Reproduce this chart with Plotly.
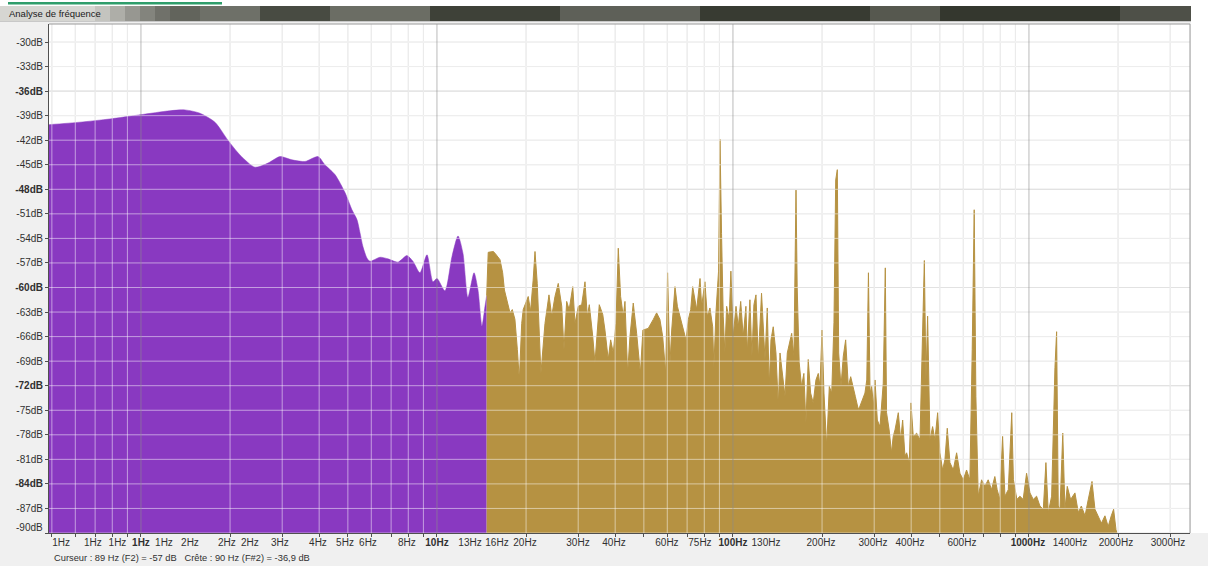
import math
import plotly.graph_objects as go

# ---------------- data ----------------
purple_freq = [0.489, 0.622, 0.786, 0.992, 1.253, 1.408, 1.582, 1.778, 1.967, 2.160, 2.428, 2.686,
               2.948, 3.237, 3.582, 3.963, 4.183, 4.523, 4.890, 5.162, 5.367, 5.495, 5.623, 5.800,
               5.938, 6.420, 6.832, 7.383, 7.916, 8.296, 8.760, 9.252, 9.694, 10.0, 10.64, 11.24,
               11.78, 12.24, 12.72, 13.34, 13.76, 14.19, 14.53, 14.72]
purple_db = [-40.1, -39.8, -39.4, -38.9, -38.4, -38.3, -38.7, -39.8, -42.0, -43.8, -45.3, -44.8,
             -44.0, -44.4, -44.6, -44.0, -45.0, -46.2, -48.4, -50.5, -51.7, -53.3, -55.0, -56.4,
             -56.8, -56.3, -56.5, -56.9, -56.1, -56.8, -58.2, -56.0, -59.3, -58.9, -60.4, -56.2,
             -53.7, -55.8, -61.2, -58.2, -60.3, -64.7, -62.3, -61.0]

gold_freq = [14.72, 14.90, 15.5, 15.7, 16.33, 16.67, 16.9, 17.65, 17.97, 18.34, 18.69, 18.98,
             19.33, 19.56, 20.34, 20.71, 21.13, 21.44, 21.82, 22.16, 22.45, 23.17, 23.90, 24.42,
             25.04, 25.69, 26.40, 26.86, 27.43, 27.97, 28.76, 29.27, 30.02, 30.83, 31.63, 32.20,
             32.71, 33.60, 34.18, 35.35, 36.32, 36.94, 37.90, 38.62, 39.42, 40.25, 40.98, 41.73,
             42.60, 43.17, 44.07, 44.87, 46.04, 47.27, 48.66, 49.63, 51.73, 53.81, 55.22, 56.65,
             57.89, 59.25, 60.14, 60.9,
             61.2, 62.1, 63.7, 64.9, 66.2, 67.9, 69.4, 70.7, 72.0, 73.1, 74.4, 75.4, 77.4, 78.4,
             80.4, 81.9, 83.6, 85.4, 86.2, 87.6, 89.4, 90.4, 91.5, 92.7, 93.9, 95.2, 97.1, 98.4,
             100.2, 102.4, 104.2, 106.2, 108.3, 110.6, 111.8, 114.1, 115.9, 117.7, 119.6, 121.8,
             124.9, 128.3, 130.6, 132.6, 134.4, 136.8, 139.7, 142.3, 144.2, 147.2, 149.9, 152.6,
             155.0, 157.9, 160.7, 163.3, 164.8, 167.4, 170.5, 173.6, 176.4, 179.6, 183.0, 186.7,
             190.7, 194.2, 196.8, 199.9, 203.0, 207.3, 211.6, 215.6, 219.4, 222.4, 225.2, 227.6,
             231.7, 235.9, 240.3, 245.3, 249.9, 255.0, 259.0, 265.1,
             268.6, 279.2, 283.2, 286.9, 290.5, 294.2, 298.4, 301.9, 307.4, 313.8, 321.9, 327.1,
             330.3, 337.0, 343.3, 347.8, 352.7, 361.9, 368.6, 374.4, 381.1, 386.1, 394.2, 399.3,
             406.6, 417.4, 428.3, 443.2, 448.7, 454.6, 462.9, 472.6, 481.2, 491.5, 500.2, 510.9,
             520.2, 529.7, 540.8, 555.0, 569.6, 584.5, 599.8, 615.5, 631.6, 643.1, 653.2, 661.8,
             673.9, 691.7, 709.7, 728.3, 747.3, 766.9, 780.9, 797.2, 814.6, 829.5, 851.5, 874.8,
             886.1, 910.4, 931.8, 956.0, 981.6, 1007.8, 1034, 1061, 1089, 1118, 1141, 1162, 1193,
             1224, 1240, 1256, 1273, 1301, 1323, 1347, 1383, 1430, 1468, 1503, 1547, 1586, 1633,
             1671, 1714, 1757, 1806, 1852, 1897, 1932, 1968, 1983]
gold_db = [-61.0, -55.7, -55.6, -55.8, -56.6, -58.2, -60.3, -63.1, -62.7, -63.9, -67.6, -71.3,
           -64.4, -62.7, -61.1, -62.9, -59.1, -55.6, -59.5, -66.4, -70.5, -64.4, -60.9, -63.5,
           -61.1, -59.5, -62.3, -67.6, -61.7, -62.7, -59.9, -64.4, -62.3, -62.1, -59.3, -63.5,
           -62.1, -66.0, -69.2, -62.1, -63.3, -65.2, -68.8, -66.4, -68.0, -64.4, -55.2, -61.1,
           -63.5, -61.7, -70.5, -66.0, -61.9, -65.6, -70.5, -65.2, -65.0, -63.9, -63.1, -63.9,
           -66.0, -70.5, -58.2, -66.4,
           -69.6, -65.2, -59.9, -62.3, -63.5, -65.2, -66.4, -63.9, -62.7, -59.9, -61.5, -62.7,
           -58.9, -62.3, -59.3, -63.5, -62.5, -64.8, -69.8, -63.1, -58.0, -41.9, -53.4, -63.5,
           -68.0, -62.3, -63.9, -58.0, -66.0, -62.3, -64.8, -61.7, -66.0, -62.3, -68.0, -61.5,
           -68.4, -62.1, -60.9, -68.8, -60.7, -68.8, -62.5, -72.1, -66.4, -64.8, -68.0, -74.5,
           -68.0, -70.5, -73.3, -68.0, -66.8, -65.6, -68.4, -48.1, -59.9, -69.2, -72.1, -70.5,
           -76.6, -68.8, -72.9, -74.1, -71.3, -70.5, -72.1, -65.2, -72.9, -79.4, -72.1, -72.9,
           -64.3, -46.85, -45.6, -68.0, -72.1, -68.4, -66.4, -72.1, -70.9, -72.1, -73.3, -74.9,
           -74.5, -72.9, -71.3, -58.2, -72.9, -72.1, -74.5, -71.3, -76.2, -77.0, -71.7, -57.6,
           -75.3, -77.4, -80.2, -78.2, -77.4, -75.3, -78.6, -76.2, -80.6, -80.2, -81.4, -74.1,
           -78.2, -77.8, -78.6, -56.7, -71.3, -63.5, -78.6, -77.0, -78.6, -75.3, -80.2, -82.3,
           -81.0, -77.2, -81.4, -82.3, -80.2, -82.7, -83.5, -82.3, -83.5, -67.6, -50.5, -73.3,
           -85.5, -83.5, -84.3, -83.5, -84.7, -83.1, -84.7, -85.9, -78.2, -85.5, -84.7, -75.3,
           -83.5, -85.9, -85.5, -85.9, -82.7, -85.1, -85.9, -85.5, -86.7, -87.1, -81.4, -87.5,
           -85.5, -69.8, -65.4, -86.7, -87.1, -77.8, -87.1, -84.3, -85.9, -85.1, -87.5, -86.7,
           -87.9, -85.9, -83.7, -87.1, -87.9, -88.8, -87.9, -89.2, -87.9, -87.1, -89.6, -90.0]

tick_freqs = [0.537, 0.688, 0.833, 1.0, 1.196, 1.464, 1.952, 2.334, 2.948, 3.963, 4.89, 5.847,
              7.916, 10, 12.93, 15.95, 19.83, 29.95, 39.63, 59.84, 77.35, 100, 129.3, 198.3,
              297.2, 396.3, 593.7, 992, 1376, 1967, 2948]
tick_labels = ["1Hz", "1Hz", "1Hz", "<b>1Hz</b>", "1Hz", "2Hz", "2Hz", "2Hz", "3Hz", "4Hz",
               "5Hz", "6Hz", "8Hz", "<b>10Hz</b>", "13Hz", "16Hz", "20Hz", "30Hz", "40Hz",
               "60Hz", "75Hz", "<b>100Hz</b>", "130Hz", "200Hz", "300Hz", "400Hz", "600Hz",
               "<b>1000Hz</b>", "1400Hz", "2000Hz", "3000Hz"]

db_ticks = [-30, -33, -36, -39, -42, -45, -48, -51, -54, -57, -60, -63, -66, -69, -72, -75,
            -78, -81, -84, -87, -90]
db_bold = [-36, -48, -60, -72, -84]

status_text = "Curseur : 89 Hz (F2) = -57 dB&nbsp;&nbsp;&nbsp;Crête : 90 Hz (F#2) = -36,9 dB"
window_title = "Analyse de fréquence"

# ---------------- geometry / style ----------------
W, H = 1208, 566
ML, MR, MT, MB = 49, 18, 24, 33
PW, PH = W - ML - MR, H - MT - MB
F_MIN, F_MAX = 0.489, 3500.0
DB_MIN, DB_MAX = -90.0, -27.8
FLOOR = -95.0
PURPLE = "#8939C1"
GOLD = "#B69242"
FONT = "Liberation Sans, Arial, sans-serif"


def px(x):
    return (x - ML) / PW


def py(y):
    return (H - MB - y) / PH


fig = go.Figure()

# grid positions (log grid 1..9 per decade)
grid_minor, grid_major = [], []
for e in range(-1, 4):
    for m in range(1, 10):
        f = m * 10 ** e
        if F_MIN < f < F_MAX:
            (grid_major if m == 1 else grid_minor).append(f)


def vlines(fs):
    xs, ys = [], []
    for f in fs:
        xs += [f, f, None]
        ys += [DB_MIN, DB_MAX, None]
    return xs, ys


def hlines(vals):
    xs, ys = [], []
    for v in vals:
        xs += [F_MIN, F_MAX, None]
        ys += [v, v, None]
    return xs, ys


def line_trace(xy, color, width=1):
    return go.Scatter(x=xy[0], y=xy[1], mode="lines", line=dict(color=color, width=width),
                      hoverinfo="skip", showlegend=False, connectgaps=False)


# under-layer grid (visible on white background)
fig.add_trace(line_trace(vlines(grid_minor), "#d8d8d8"))
fig.add_trace(line_trace(hlines([v for v in db_ticks if v not in db_bold]), "#dcdcdc"))
fig.add_trace(line_trace(hlines(db_bold), "#c4c4c4"))

# purple area
fig.add_trace(go.Scatter(x=[purple_freq[0], purple_freq[-1]], y=[FLOOR, FLOOR], mode="lines",
                         line=dict(width=0, color=PURPLE), hoverinfo="skip", showlegend=False))
fig.add_trace(go.Scatter(x=purple_freq, y=purple_db, mode="lines", fill="tonexty",
                         fillcolor=PURPLE, line=dict(color=PURPLE, width=0.5, shape="spline",
                                                     smoothing=0.7),
                         hoverinfo="skip", showlegend=False))
# gold area
fig.add_trace(go.Scatter(x=[gold_freq[0], gold_freq[-1]], y=[FLOOR, FLOOR], mode="lines",
                         line=dict(width=0, color=GOLD), hoverinfo="skip", showlegend=False))
fig.add_trace(go.Scatter(x=gold_freq, y=gold_db, mode="lines", fill="tonexty",
                         fillcolor=GOLD, line=dict(color=GOLD, width=1),
                         hoverinfo="skip", showlegend=False))

# over-layer grid (visible on the coloured areas)
fig.add_trace(line_trace(vlines(grid_minor), "rgba(255,255,255,0.5)"))
fig.add_trace(line_trace(hlines(db_ticks), "rgba(255,255,255,0.5)"))
fig.add_trace(line_trace(vlines(grid_major), "rgba(140,140,140,0.6)"))

# the bottom label (-90dB) is drawn slightly raised, as in the reference
y_text = [("" if v == db_ticks[-1] else (f"<b>{v}dB</b>" if v in db_bold else f"{v}dB"))
          for v in db_ticks]

fig.update_layout(
    width=W, height=H,
    margin=dict(l=ML, r=MR, t=MT, b=MB, pad=0, autoexpand=False),
    paper_bgcolor="#f0f0f0", plot_bgcolor="white",
    font=dict(family=FONT, size=10, color="#303030"),
    showlegend=False,
    xaxis=dict(type="log", range=[math.log10(F_MIN), math.log10(F_MAX)],
               tickmode="array", tickvals=tick_freqs, ticktext=tick_labels,
               ticks="", showgrid=False, zeroline=False, automargin=False, tickangle=0,
               showline=True, linecolor="#505050", linewidth=1,
               tickfont=dict(family=FONT, size=10, color="#303030"),
               minor=dict(tickmode="array", tickvals=grid_minor + grid_major, ticks="outside",
                          ticklen=3, tickcolor="#505050", showgrid=False)),
    yaxis=dict(range=[DB_MIN, DB_MAX], tickmode="array", tickvals=db_ticks, ticktext=y_text,
               ticks="outside", ticklen=3, tickcolor="#505050", showgrid=False, automargin=False,
               zeroline=False, showline=True, linecolor="#505050", linewidth=1,
               tickfont=dict(family=FONT, size=10, color="#303030")),
)

shapes = []
# white strip at very top and right of plot
shapes.append(dict(type="rect", xref="paper", yref="paper", x0=px(0), x1=px(W), y0=py(6), y1=py(0),
                   fillcolor="white", line=dict(width=0), layer="below"))
shapes.append(dict(type="rect", xref="paper", yref="paper", x0=px(1191), x1=px(W), y0=py(533), y1=py(6),
                   fillcolor="white", line=dict(width=0), layer="below"))
# green line top-left
shapes.append(dict(type="rect", xref="paper", yref="paper", x0=px(8), x1=px(222), y0=py(4.5), y1=py(2),
                   fillcolor="#2f9d6b", line=dict(width=0)))
# title bar (stepped gradient)
bar_segments = [(0, 95, "#d6d6d2"), (95, 110, "#c4c4bf"), (110, 125, "#aeaea8"), (125, 140, "#979791"),
                (140, 155, "#83847d"), (155, 170, "#70716a"), (170, 200, "#62645c"),
                (200, 260, "#6e7068"), (260, 330, "#484b42"),
                (330, 430, "#6b6d64"), (430, 560, "#3e4138"), (560, 700, "#5e6058"),
                (700, 870, "#383b32"), (870, 940, "#56584f"), (940, 1120, "#34372e"),
                (1120, 1191, "#4e5048")]
for x0, x1, c in bar_segments:
    shapes.append(dict(type="rect", xref="paper", yref="paper", x0=px(x0), x1=px(x1),
                       y0=py(21), y1=py(6), fillcolor=c, line=dict(width=0)))
shapes.append(dict(type="line", xref="paper", yref="paper", x0=px(0), x1=px(1191), y0=py(21.5), y1=py(21.5),
                   line=dict(color="#c8c8c8", width=1)))
# plot border top / right
shapes.append(dict(type="line", xref="paper", yref="paper", x0=0, x1=1, y0=1, y1=1,
                   line=dict(color="#9a9a9a", width=1)))
shapes.append(dict(type="line", xref="paper", yref="paper", x0=1, x1=1, y0=0, y1=1,
                   line=dict(color="#9a9a9a", width=1)))
fig.update_layout(shapes=shapes)

fig.add_annotation(text=window_title, xref="paper", yref="paper", x=px(7), y=py(13.5),
                   xanchor="left", yanchor="middle", showarrow=False,
                   font=dict(family=FONT, size=9.5, color="#1a1a1a"))
fig.add_annotation(text=f"{db_ticks[-1]}dB", xref="paper", yref="paper", x=px(45), y=py(527.5),
                   xanchor="right", yanchor="middle", showarrow=False,
                   font=dict(family=FONT, size=10, color="#303030"))
fig.add_annotation(text=status_text, xref="paper", yref="paper", x=px(52), y=py(558),
                   xanchor="left", yanchor="middle", showarrow=False,
                   font=dict(family=FONT, size=9.3, color="#303030"))

fig.write_html("out.html", config={"displayModeBar": False},
               post_script="document.body.style.margin='0';document.body.style.overflow='hidden';")
